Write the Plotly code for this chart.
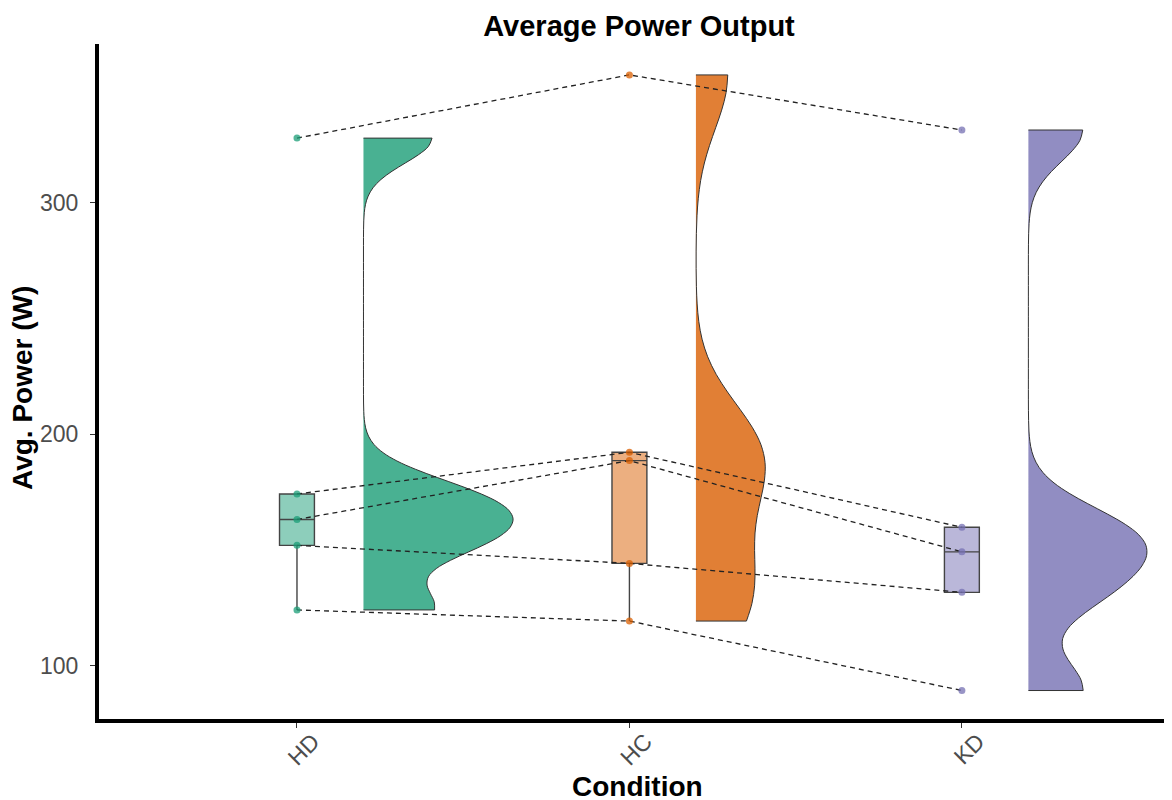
import numpy as np
import plotly.graph_objects as go

# ---- data ----
conditions = ["HD", "HC", "KD"]
hd_power = [327.9, 174.2, 163.2, 152.0, 124.1]
hc_power = [355.2, 192.2, 188.6, 144.2, 119.3]
kd_power = [331.4, 159.8, 149.2, 131.7, 89.3]
y_ticks = [100, 200, 300]
colors = ["#1B9E77", "#D95F02", "#7570B3"]

series = [hd_power, hc_power, kd_power]
positions = [1, 2, 3]
violin_offset = 0.2
violin_full_width = 0.9
FONT = "Liberation Sans"


def rgba(hex_color, a):
    h = hex_color.lstrip("#")
    r, g, b = int(h[0:2], 16), int(h[2:4], 16), int(h[4:6], 16)
    return f"rgba({r},{g},{b},{a})"


def nrd0(v):
    # R's default density bandwidth (as used by ggplot2)
    v = np.asarray(v, float)
    q75, q25 = np.percentile(v, [75, 25])
    lo = min(np.std(v, ddof=1), (q75 - q25) / 1.34)
    return 0.9 * lo * len(v) ** -0.2


def kde_peak(v, bw):
    v = np.asarray(v, float)
    grid = np.linspace(v.min(), v.max(), 512)
    u = (grid[:, None] - v[None, :]) / bw
    dens = np.exp(-0.5 * u ** 2).sum(axis=1) / (len(v) * bw * np.sqrt(2 * np.pi))
    return dens.max()


# ggplot-like "area" scaling: widths relative to the largest density peak
bws = [nrd0(v) for v in series]
peaks = [kde_peak(v, b) for v, b in zip(series, bws)]
max_peak = max(peaks)

fig = go.Figure()

# half violins
for pos, vals, c, bw, pk in zip(positions, series, colors, bws, peaks):
    fig.add_trace(go.Violin(
        x=[pos + violin_offset] * len(vals), y=vals,
        side="positive", width=violin_full_width * pk / max_peak,
        spanmode="hard", bandwidth=bw, scalemode="width",
        points=False, fillcolor=rgba(c, 0.8),
        line=dict(color="#333333", width=1), opacity=1,
        box_visible=False, meanline_visible=False,
        showlegend=False, hoverinfo="skip"))

# boxes (outliers hidden)
for pos, vals, c in zip(positions, series, colors):
    fig.add_trace(go.Box(
        x=[pos] * len(vals), y=vals, width=0.105, boxpoints="outliers",
        marker=dict(opacity=0, size=1),
        quartilemethod="inclusive", whiskerwidth=0,
        fillcolor=rgba(c, 0.5), line=dict(color="#444444", width=1.4),
        showlegend=False, hoverinfo="skip"))

# subject lines
for i in range(len(hd_power)):
    fig.add_trace(go.Scatter(
        x=positions, y=[s[i] for s in series], mode="lines",
        line=dict(color="#222222", width=1.3, dash="5px,4px"),
        showlegend=False, hoverinfo="skip"))

# points
for pos, vals, c in zip(positions, series, colors):
    fig.add_trace(go.Scatter(
        x=[pos] * len(vals), y=vals, mode="markers",
        marker=dict(color=c, size=7, opacity=0.75),
        showlegend=False))

axis_common = dict(
    showline=True, linewidth=4, linecolor="black", mirror=False,
    ticks="outside", ticklen=5, tickwidth=1, tickcolor="#333333",
    showgrid=False, zeroline=False, automargin=False,
    tickfont=dict(family=FONT, size=23, color="#4D4D4D"),
)

fig.update_layout(
    width=1172, height=800,
    paper_bgcolor="white", plot_bgcolor="white",
    margin=dict(l=91, r=8, t=36, b=89),
    violinmode="overlay", boxmode="overlay",
    title=dict(text="<b>Average Power Output</b>", xref="container",
               x=0.5384, xanchor="center", y=0.978, yanchor="middle",
               font=dict(family=FONT, size=29, color="black")),
    xaxis=dict(range=[0.4045, 3.632], tickvals=positions, ticktext=conditions,
               tickangle=-45, ticklabelshift=16, ticklabelstandoff=-9,
               **axis_common),
    yaxis=dict(range=[77.0, 368.55], tickvals=y_ticks, ticklabelstandoff=7,
               **axis_common),
    annotations=[
        dict(text="<b>Condition</b>", xref="paper", yref="paper",
             x=0.5014, y=-0.0993, xanchor="center", yanchor="middle",
             showarrow=False, font=dict(family=FONT, size=28, color="black")),
        dict(text="<b>Avg. Power (W)</b>", xref="paper", yref="paper",
             x=-0.0708, y=0.4904, xanchor="center", yanchor="middle",
             textangle=-90, showarrow=False,
             font=dict(family=FONT, size=28, color="black")),
    ],
)

fig.write_html("out.html")
